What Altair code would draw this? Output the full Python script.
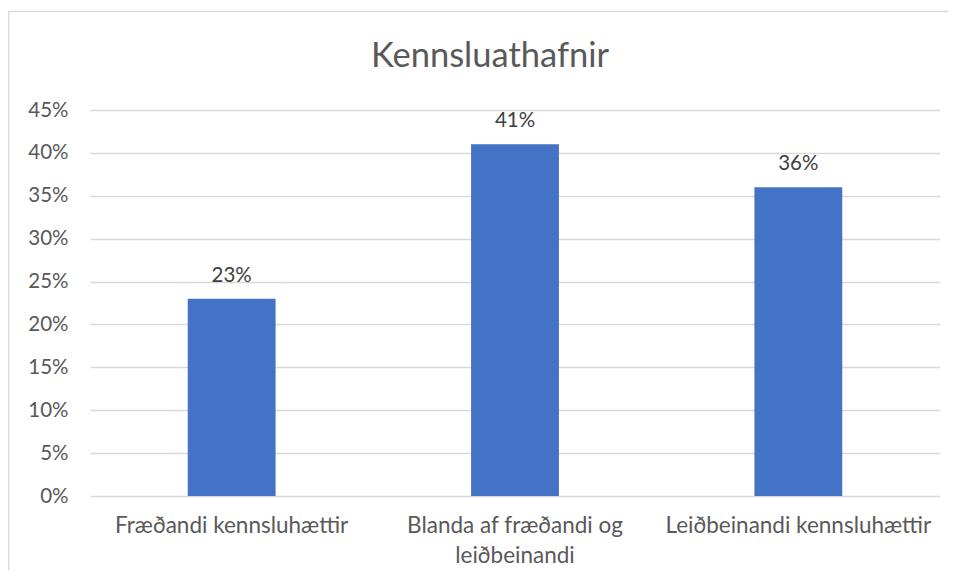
import altair as alt
import pandas as pd

categories = ["Fræðandi kennsluhættir", "Blanda af fræðandi og leiðbeinandi", "Leiðbeinandi kennsluhættir"]
values = [0.23, 0.41, 0.36]
y_ticks = [0, 0.05, 0.10, 0.15, 0.20, 0.25, 0.30, 0.35, 0.40, 0.45]
title_text = "Kennsluathafnir"

df = pd.DataFrame({"cat": categories, "val": values})

FONT = "Lato"
TXT = "#595959"

x_enc = alt.X(
    "cat:N", sort=categories, title=None,
    scale=alt.Scale(paddingInner=0.69, paddingOuter=0.345),
    axis=alt.Axis(
        labelAngle=0, labelFontSize=22.5, labelColor=TXT, labelFont=FONT,
        labelPadding=18, labelLimit=0, labelLineHeight=30, labelBaseline="top",
        ticks=False, domain=False, grid=False,
        labelExpr="datum.label == 'Blanda af fræðandi og leiðbeinandi' ? ['Blanda af fræðandi og', 'leiðbeinandi'] : datum.label",
    ),
)
y_enc = alt.Y(
    "val:Q", title=None,
    scale=alt.Scale(domain=[0, 0.45], nice=False),
    axis=alt.Axis(
        values=y_ticks, format=".0%", labelFontSize=20.5, labelColor=TXT, labelFont=FONT,
        labelPadding=22, ticks=False, domain=False, grid=True,
        gridColor="#D9D9D9", gridWidth=1.3,
    ),
)

base = alt.Chart(df)
bars = base.mark_bar(color="#4472C4").encode(x=x_enc, y=y_enc)
labels = base.mark_text(dy=-17, fontSize=20.5, font=FONT, color="#404040", baseline="alphabetic").encode(
    x=alt.X("cat:N", sort=categories), y="val:Q", text=alt.Text("val:Q", format=".0%")
)
one = alt.Data(values=[{"t": title_text}])
border_top = alt.Chart(one).mark_rule(stroke="#D9D9D9", strokeWidth=1.5).encode(
    x=alt.value(-81.5), x2=alt.value(1000), y=alt.value(-98.5)
)
border_left = alt.Chart(one).mark_rule(stroke="#D9D9D9", strokeWidth=1.5).encode(
    x=alt.value(-81.5), y=alt.value(-98.5), y2=alt.value(600)
)
title = alt.Chart(one).mark_text(fontSize=34.5, font=FONT, color=TXT, baseline="alphabetic", align="center").encode(
    x=alt.value(400), y=alt.value(-43), text="t:N"
)

chart = alt.layer(border_top, border_left, title, bars, labels).properties(
    width=850, height=386,
    autosize=alt.AutoSizeParams(type="none"),
    padding={"left": 82, "top": 102, "right": 8, "bottom": 74},
).configure_view(stroke=None)

chart.save("out.html", embed_options={"renderer": "svg", "actions": False})
